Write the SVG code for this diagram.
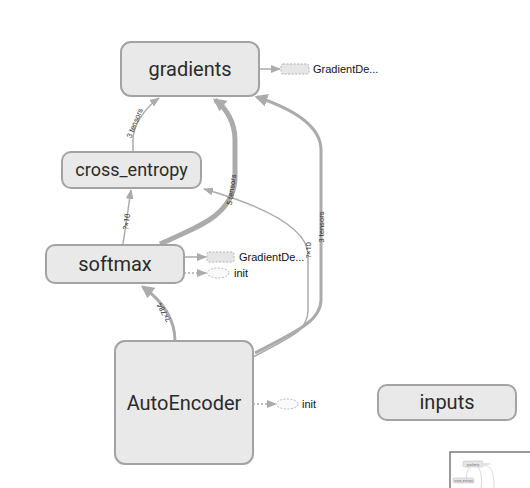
<svg xmlns="http://www.w3.org/2000/svg" width="530" height="488" viewBox="0 0 530 488">
<style>
.node rect.main{fill:#e9e9e9;stroke:#a3a3a3;stroke-width:2}
.lbl{font-family:Roboto,"Liberation Sans",sans-serif;fill:#2b2b2b;text-anchor:middle}
.small{font-family:"Liberation Sans",Arial,sans-serif;fill:#111;font-size:11px}
.edge{fill:none;stroke:#ababab}
.elbl{font-family:Roboto,"Liberation Sans",sans-serif;font-size:7.5px;fill:#333;text-anchor:middle}
.dashrect{fill:#e6e6e6;stroke:#b0b0b0;stroke-width:1;stroke-dasharray:2,1.5}
.dashell{fill:#fafafa;stroke:#b8b8b8;stroke-width:1;stroke-dasharray:2,1.5}
.dotted{fill:none;stroke:#ababab;stroke-width:1.5;stroke-dasharray:2,2}
</style>
<defs>
<marker id="ah" markerUnits="userSpaceOnUse" markerWidth="10" markerHeight="10" viewBox="0 0 10 10" refX="9" refY="5" orient="auto">
<path d="M0,1 L10,5 L0,9 Z" fill="#ababab"/>
</marker>
<marker id="ahb" markerUnits="userSpaceOnUse" markerWidth="13" markerHeight="13" viewBox="0 0 10 10" refX="8" refY="5" orient="auto">
<path d="M0,0 L10,5 L0,10 Z" fill="#ababab"/>
</marker>
</defs>
<rect width="530" height="488" fill="#ffffff"/>
<g id="edges">
<path class="edge" stroke-width="1.5" d="M133,152 L133,140 C133,125 145,108 159,98" marker-end="url(#ah)"/>
<path class="edge" stroke-width="1.5" d="M123,244 L131,190" marker-end="url(#ah)"/>
<path class="edge" stroke-width="5" d="M160,244 C200,226 232,215 235,180 L235,140 C235,122 226,108 215,100" marker-end="url(#ahb)"/>
<path class="edge" stroke-width="1.5" d="M253,357 C295,335 308,330 308,310 L308,255 C308,230 270,208 204,189" marker-end="url(#ah)"/>
<path class="edge" stroke-width="3" d="M255,353 C300,330 321,320 321,300 L321,150 C321,125 290,108 257,97" marker-end="url(#ahb)"/>
<path class="edge" stroke-width="3" d="M175,341 C175,320 165,303 143,287" marker-end="url(#ahb)"/>
<path class="edge" stroke-width="1.5" d="M259,69 L280,69" marker-end="url(#ah)"/>
<path class="edge" stroke-width="1.5" d="M184,257 L206,257" marker-end="url(#ah)"/>
<path class="dotted" d="M184,273 L206,273" marker-end="url(#ah)"/>
<path class="dotted" d="M253,404 L276,404" marker-end="url(#ah)"/>
<text class="elbl" transform="translate(137,124) rotate(-68)">3 tensors</text>
<text class="elbl" transform="translate(129,222) rotate(-82)">?×10</text>
<text class="elbl" transform="translate(234,190) rotate(-82)">5 tensors</text>
<text class="elbl" transform="translate(311,250) rotate(-90)">?×10</text>
<text class="elbl" transform="translate(324,227) rotate(-90)">3 tensors</text>
<text class="elbl" transform="translate(166,311) rotate(-120)">?×784</text>
</g>
<g id="gradients" class="node">
<rect class="main" x="121" y="42" width="138" height="54" rx="10"/>
<text class="lbl" x="190" y="76" font-size="20">gradients</text>
</g>
<g id="gradients-aux" class="node">
<rect class="dashrect" x="281" y="64" width="28" height="10" rx="2"/>
<text class="small" x="313" y="73">GradientDe...</text>
</g>
<g id="cross_entropy" class="node">
<rect class="main" x="62" y="152" width="139" height="36" rx="9"/>
<text class="lbl" x="131.5" y="176" font-size="18">cross_entropy</text>
</g>
<g id="softmax" class="node">
<rect class="main" x="46" y="245" width="138" height="38" rx="9"/>
<text class="lbl" x="115" y="271" font-size="20">softmax</text>
</g>
<g id="softmax-aux" class="node">
<rect class="dashrect" x="207" y="252" width="27" height="10" rx="2"/>
<text class="small" x="239" y="261">GradientDe...</text>
<ellipse class="dashell" cx="218" cy="273" rx="11" ry="5"/>
<text class="small" x="234" y="277">init</text>
</g>
<g id="AutoEncoder" class="node">
<rect class="main" x="115" y="341" width="138" height="123" rx="10"/>
<text class="lbl" x="184" y="410" font-size="20">AutoEncoder</text>
</g>
<g id="AutoEncoder-aux" class="node">
<ellipse class="dashell" cx="287" cy="404" rx="11" ry="5"/>
<text class="small" x="302" y="408">init</text>
</g>
<g id="inputs" class="node">
<rect class="main" x="378" y="385" width="138" height="35" rx="9"/>
<text class="lbl" x="447" y="409" font-size="20">inputs</text>
</g>
<g id="minimap">
<rect x="450" y="452" width="90" height="44" fill="#ffffff" stroke="#7a7a7a" stroke-width="1.5"/>
<path d="M470,467 C466,472 466,476 467,478 M478,467 C482,472 482,480 481,488 M483,465 C492,466 494,472 494,488" fill="none" stroke="#d0d0d0" stroke-width="0.8"/>
<path d="M484,464 L490,464" stroke="#bbbbbb" stroke-width="0.8"/>
<rect x="463" y="461" width="20" height="6" rx="1.5" fill="#e6e6e6" stroke="#c4c4c4" stroke-width="0.6"/>
<rect x="453" y="478" width="21" height="5" rx="1.5" fill="#e6e6e6" stroke="#c4c4c4" stroke-width="0.6"/>
<text x="473" y="465.5" font-family="Roboto,sans-serif" font-size="3" fill="#777" text-anchor="middle">gradients</text>
<text x="463.5" y="482" font-family="Roboto,sans-serif" font-size="3" fill="#777" text-anchor="middle">cross_entropy</text>
</g>
</svg>
